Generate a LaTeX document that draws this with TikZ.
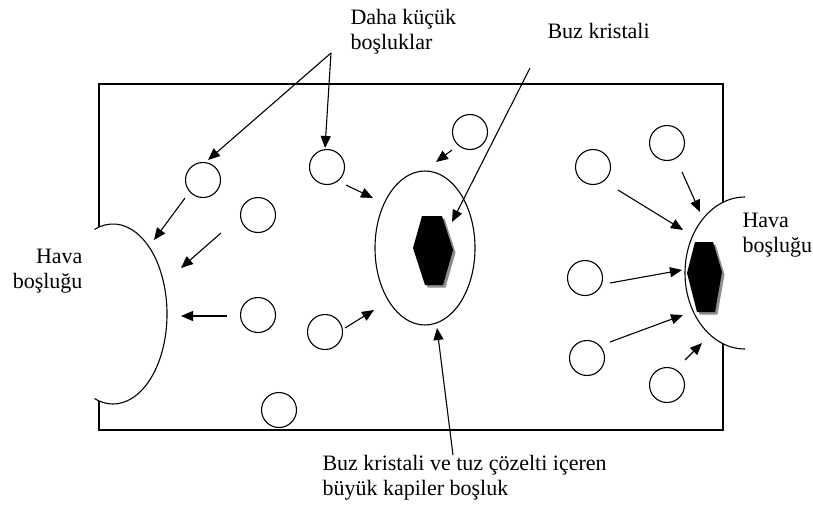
\documentclass[tikz,border=0pt]{standalone}
\usepackage{fontspec}
\setmainfont{Liberation Serif}
\usetikzlibrary{arrows.meta,shapes.geometric}
\begin{document}
\begin{tikzpicture}[x=1pt,y=-1pt,line width=1.1pt,
  pore/.style={draw,circle,minimum size=35pt,inner sep=0pt,line width=1.1pt},
  arr/.style={-{Triangle[length=12pt,width=10pt]},line width=1.1pt},
  lbl/.style={font=\fontsize{22}{25}\selectfont,inner sep=0pt,align=left},
  crystal/.style={fill=black},
  crshadow/.style={fill=black!45},
  bigpore/.style={draw,ellipse,minimum width=100pt,minimum height=154pt,inner sep=0pt,line width=1.1pt}]
\useasboundingbox (0,0) rectangle (813,506);
% sample container
\draw (99,227) -- (99,84) -- (723,84) -- (723,202);
\draw (723,344) -- (723,430) -- (99,430) -- (99,401);
% left air gap
\draw (113,314) ++(-110:54 and 90) arc[start angle=-110,end angle=110,x radius=54,y radius=90];
% big capillary pore with ice crystal
\node[bigpore] (big) at (425,248) {};
\fill[crshadow] (424.5,218.5) -- (444.5,218.5) -- (455.5,252.5) -- (445.5,287.5) -- (427.5,287.5) -- (415.5,250.5) -- cycle;
\fill[crystal] (422,216) -- (442,216) -- (453,250) -- (443,285) -- (425,285) -- (413,248) -- cycle;
% right crystal and air gap
\fill[crshadow] (697.5,244.5) -- (715.5,244.5) -- (724.5,274.5) -- (717.5,314.5) -- (699.5,314.5) -- (689.5,275.5) -- cycle;
\fill[crystal] (695,242) -- (713,242) -- (722,272) -- (715,312) -- (697,312) -- (687,273) -- cycle;
\draw (745,197) arc[start angle=-90,end angle=-270,x radius=60,y radius=76];
% small pores
\node[pore] (c1) at (203,180) {};
\node[pore] (c2) at (258,215) {};
\node[pore] (c3) at (258,315) {};
\node[pore] (c4) at (327,167) {};
\node[pore] (c5) at (470,132) {};
\node[pore] (c6) at (325,332) {};
\node[pore] (c7) at (279,410) {};
\node[pore] (c8) at (593,167) {};
\node[pore] (c9) at (667,143) {};
\node[pore] (c10) at (585,278) {};
\node[pore] (c11) at (587,358) {};
\node[pore] (c12) at (667,385) {};
% labels (base anchor = baseline of last line)
\node[lbl,anchor=base west] (lsmall) at (350,49) {Daha küçük\\boşluklar};
\node[lbl,anchor=base west] (lice) at (547,38) {Buz kristali};
\node[lbl,anchor=base west] (lbig) at (322,495) {Buz kristali ve tuz çözelti içeren\\büyük kapiler boşluk};
\node[lbl,align=right,anchor=base east] (lair) at (83,288) {Hava\\boşluğu};
\node[lbl,anchor=base west] (rair) at (742,252) {Hava\\boşluğu};
% label pointers
\coordinate (j) at (331,53);
\coordinate (jt1) at (208,160);
\coordinate (jt2) at (325,148);
\draw[arr] (j) -- (jt1);
\draw[arr] (j) -- (jt2);
\coordinate (ice0) at (530,68);
\coordinate (ice1) at (452,222);
\draw[arr] (ice0) -- (ice1);
\coordinate (big0) at (453,455);
\coordinate (big1) at (437,328);
\draw[arr] (big0) -- (big1);
% migration arrows
\coordinate (a1s) at (185,198); \coordinate (a1e) at (154,240);
\coordinate (a2s) at (221,233); \coordinate (a2e) at (181,268);
\coordinate (a3s) at (227,316); \coordinate (a3e) at (181,316);
\coordinate (a4s) at (346,185); \coordinate (a4e) at (373,198);
\coordinate (a5s) at (452,150); \coordinate (a5e) at (436,162);
\coordinate (a6s) at (345,328); \coordinate (a6e) at (374,310);
\coordinate (a8s) at (618,190); \coordinate (a8e) at (683,230);
\coordinate (a9s) at (682,172); \coordinate (a9e) at (700,212);
\coordinate (a10s) at (610,283); \coordinate (a10e) at (682,270);
\coordinate (a11s) at (610,342); \coordinate (a11e) at (683,315);
\coordinate (a12s) at (685,360); \coordinate (a12e) at (702,343);
\foreach \i in {1,2,3,4,5,6,8,9,10,11,12} {\draw[arr] (a\i s) -- (a\i e);}
\end{tikzpicture}
\end{document}
